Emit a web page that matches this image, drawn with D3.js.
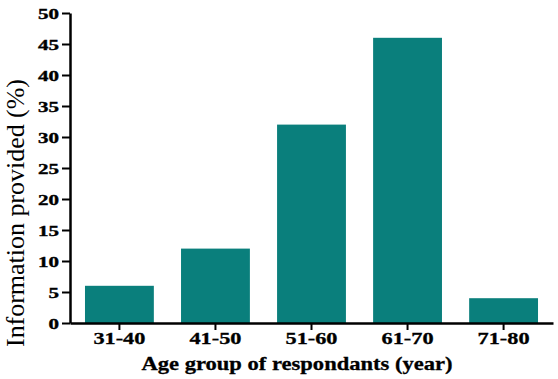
<!DOCTYPE html>
<html><head><meta charset="utf-8">
<script src="https://cdn.jsdelivr.net/npm/d3@7"></script>
<style>body{margin:0;background:#fff}svg{display:block}</style>
</head><body>
<script>
const categories = ["31-40","41-50","51-60","61-70","71-80"];
const values = [6, 12, 32, 46, 4];
const yTicks = [0,5,10,15,20,25,30,35,40,45,50];
const xTitle = "Age group of respondants (year)";
const yTitle = "Information provided (%)";

(function(){
const W = 558, H = 379;
const svg = d3.select("body").append("svg").attr("width", W).attr("height", H);
const mLeft = 70, mRight = 553, mTop = 13, mBottom = 323;

const x = d3.scaleBand().domain(categories).range([mLeft, mRight]).paddingInner(0.283).paddingOuter(0.156);
const y = d3.scaleLinear().domain([0, 50]).range([mBottom, mTop]);

svg.selectAll("rect.bar").data(values).enter().append("rect")
  .attr("class","bar")
  .attr("x", (d,i) => x(categories[i]))
  .attr("width", x.bandwidth())
  .attr("y", d => y(d))
  .attr("height", d => y(0) - y(d))
  .attr("fill", "#0a7f7c");

// Y axis
const gy = svg.append("g").attr("transform", `translate(${mLeft},0)`)
  .call(d3.axisLeft(y).tickValues(yTicks).tickSize(8).tickPadding(3).tickSizeOuter(0));
gy.select(".domain").attr("stroke","#000").attr("stroke-width",2.5);
gy.selectAll(".tick line").attr("stroke","#000").attr("stroke-width",2);
gy.selectAll(".tick text")
  .attr("font-family","'Liberation Serif','Times New Roman',serif")
  .attr("font-weight","bold").attr("font-size","15.5px").attr("fill","#000")
  .attr("dy","0.34em")
  .attr("stroke","#000").attr("stroke-width",0.4)
  .attr("textLength", d => String(d).length * 10.5)
  .attr("lengthAdjust","spacingAndGlyphs");

// X axis
const gx = svg.append("g").attr("transform", `translate(0,${mBottom})`)
  .call(d3.axisBottom(x).tickSize(7).tickSizeOuter(0));
gx.select(".domain").attr("stroke","#000").attr("stroke-width",2.5);
gx.selectAll(".tick line").attr("stroke","#000").attr("stroke-width",2);
gx.selectAll(".tick text")
  .attr("font-family","'Liberation Serif','Times New Roman',serif")
  .attr("font-weight","bold").attr("font-size","17px").attr("fill","#000")
  .attr("stroke","#000").attr("stroke-width",0.3)
  .attr("y", 21).attr("dy", 0)
  .attr("textLength", 52)
  .attr("lengthAdjust","spacingAndGlyphs");

// Titles
svg.append("text")
  .attr("x", 297).attr("y", 370)
  .attr("text-anchor","middle")
  .attr("font-family","'Liberation Serif','Times New Roman',serif")
  .attr("font-weight","bold").attr("font-size","19px")
  .attr("stroke","#000").attr("stroke-width",0.3)
  .attr("textLength", 311).attr("lengthAdjust","spacingAndGlyphs")
  .text(xTitle);

svg.append("text")
  .attr("transform","translate(24,213) rotate(-90)")
  .attr("text-anchor","middle")
  .attr("font-family","'Liberation Serif','Times New Roman',serif")
  .attr("font-size","26px")
  .attr("textLength", 268).attr("lengthAdjust","spacingAndGlyphs")
  .text(yTitle);
})();
</script>
</body></html>
